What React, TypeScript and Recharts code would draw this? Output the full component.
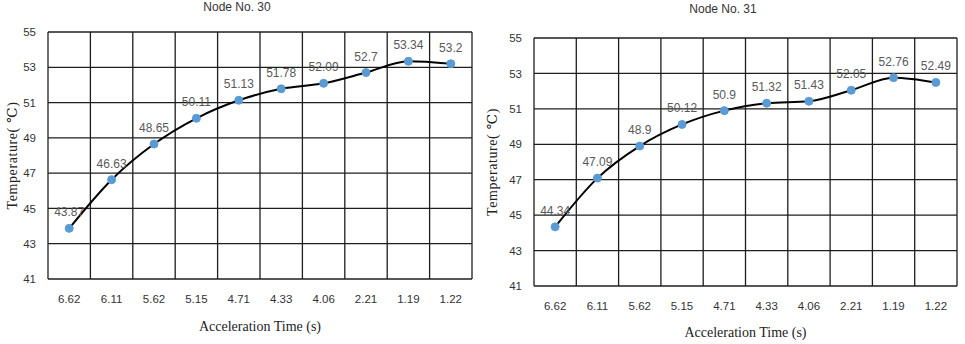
import { CartesianGrid, LabelList, Line, LineChart, XAxis, YAxis } from "recharts";

const TIMES = ["6.62", "6.11", "5.62", "5.15", "4.71", "4.33", "4.06", "2.21", "1.19", "1.22"];
const NODE_30 = [43.87, 46.63, 48.65, 50.11, 51.13, 51.78, 52.09, 52.7, 53.34, 53.2];
const NODE_31 = [44.34, 47.09, 48.9, 50.12, 50.9, 51.32, 51.43, 52.05, 52.76, 52.49];
const Y_TICKS = [41, 43, 45, 47, 49, 51, 53, 55];

const SANS = '"Liberation Sans", Arial, sans-serif';
const SERIF = '"Liberation Serif", "DejaVu Serif", serif';
const DOT_COLOR = "#5b9bd5";
const GRID_COLOR = "#1e1e1e";

// band edges for the vertical grid, band centres for the labels
const BAND_EDGES = TIMES.map((_, i) => i).concat(TIMES.length);
const BAND_CENTRES = TIMES.map((_, i) => i + 0.5);

interface NodeChartProps {
  title: string;
  values: number[];
  width: number;
  left: number;
  top: number;
  bottom: number;
  axisWidth: number;
  axisHeight: number;
  titleX: number;
  titleTop: number;
  labelOffset: number;
}

function NodeChart(p: NodeChartProps) {
  const data = TIMES.map((t, i) => ({ pos: i + 0.5, time: t, temp: p.values[i] }));
  return (
    <div style={{ position: "absolute", left: p.left, top: 0, width: p.width, height: 344 }}>
      <div
        style={{
          position: "absolute",
          left: p.titleX - 60,
          top: p.titleTop,
          width: 120,
          textAlign: "center",
          fontFamily: SANS,
          fontSize: 12,
          color: "#333",
          lineHeight: "14px",
        }}
      >
        {p.title}
      </div>
      <LineChart
        width={p.width}
        height={344}
        data={data}
        margin={{ top: p.top, right: 8, left: 0, bottom: p.bottom }}
      >
        <CartesianGrid xAxisId="grid" stroke={GRID_COLOR} strokeWidth={1.3} />
        <XAxis
          xAxisId="grid"
          type="number"
          dataKey="pos"
          domain={[0, TIMES.length]}
          ticks={BAND_EDGES}
          height={0}
          hide
        />
        <XAxis
          xAxisId="labels"
          type="number"
          dataKey="pos"
          domain={[0, TIMES.length]}
          ticks={BAND_CENTRES}
          tickFormatter={(v: number) => TIMES[Math.floor(v)]}
          axisLine={false}
          tickLine={false}
          tickMargin={10}
          height={p.axisHeight}
          tick={{ fontFamily: SANS, fontSize: 11.5, fill: "#333" }}
          label={{
            value: "Acceleration Time (s)",
            position: "insideBottom",
            offset: p.labelOffset,
            style: { fontFamily: SERIF, fontSize: 14, fill: "#222" },
          }}
        />
        <YAxis
          type="number"
          domain={[41, 55]}
          ticks={Y_TICKS}
          axisLine={false}
          tickLine={false}
          tickMargin={6}
          width={p.axisWidth}
          tick={{ fontFamily: SANS, fontSize: 11.5, fill: "#333" }}
          label={{
            value: "Temperature( ℃)",
            angle: -90,
            position: "center",
            dx: 12 - p.axisWidth / 2,
            style: { fontFamily: SERIF, fontSize: 14, fill: "#222", textAnchor: "middle", letterSpacing: 0.6 },
          }}
        />
        <Line
          xAxisId="labels"
          type="monotone"
          dataKey="temp"
          stroke="#000"
          strokeWidth={2}
          dot={{ r: 4, fill: DOT_COLOR, stroke: DOT_COLOR, strokeWidth: 1 }}
          isAnimationActive={false}
        >
          <LabelList
            dataKey="temp"
            position="top"
            offset={12}
            style={{ fontFamily: SANS, fontSize: 12, fill: "#595959" }}
          />
        </Line>
      </LineChart>
    </div>
  );
}

export default function App() {
  return (
    <div style={{ position: "absolute", left: 0, top: 0, width: 965, height: 344, background: "#fff", overflow: "hidden" }}>
      <NodeChart
        title="Node No. 30"
        values={NODE_30}
        width={480}
        left={0}
        top={32}
        bottom={5}
        axisWidth={48}
        axisHeight={60}
        titleX={237}
        titleTop={0}
        labelOffset={8}
      />
      <NodeChart
        title="Node No. 31"
        values={NODE_31}
        width={485}
        left={480}
        top={38}
        bottom={6}
        axisWidth={54}
        axisHeight={52}
        titleX={243}
        titleTop={2}
        labelOffset={1}
      />
    </div>
  );
}
